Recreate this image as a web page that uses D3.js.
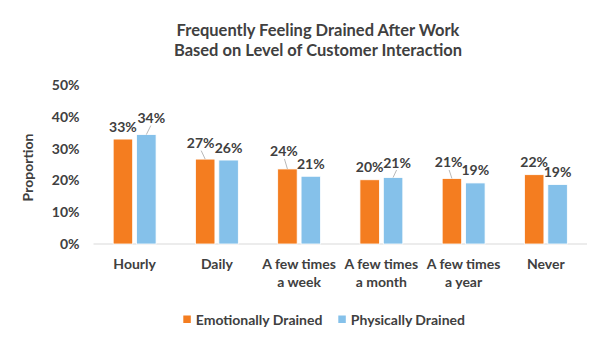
<!DOCTYPE html>
<html>
<head>
<meta charset="utf-8">
<script src="https://cdn.jsdelivr.net/npm/d3@7"></script>
<style>
  body { margin: 0; background: #fff; }
  text { font-family: Lato, "Open Sans", sans-serif; font-weight: bold; fill: #404040; }
</style>
</head>
<body>
<svg id="chart" width="601" height="339"></svg>
<script>
// data
var categories = ['Hourly', 'Daily', 'A few times\na week', 'A few times\na month', 'A few times\na year', 'Never'];
var seriesNames = ['Emotionally Drained', 'Physically Drained'];
var emotional = [0.33, 0.267, 0.236, 0.202, 0.206, 0.218];
var physical = [0.344, 0.264, 0.213, 0.209, 0.192, 0.187];
var yTicks = [0, 0.1, 0.2, 0.3, 0.4, 0.5];
var titleLines = ['Frequently Feeling Drained After Work', 'Based on Level of Customer Interaction'];

// labels that were nudged off their bars (with a leader line)
var nudged = {
  '0-1': [5, -4], '1-0': [-4.5, -3.5], '2-0': [-3.5, -5],
  '3-1': [4, -2.5], '4-0': [-3.3, -3.5]
};

var colors = ['#F47D20', '#85C1EA'];
var svg = d3.select('#chart');
var margin = { left: 93.5, right: 14, top: 85, bottom: 95 };
var width = 601 - margin.left - margin.right;
var height = 339 - margin.top - margin.bottom;

var x0 = d3.scaleBand().domain(d3.range(categories.length)).range([margin.left, margin.left + width]);
var x1 = d3.scalePoint().domain([0, 1]).range([-11.7, 11.7]);
var y = d3.scaleLinear().domain([0, 0.5]).range([margin.top + height, margin.top]);

// title, sized so the first line is ~283px wide like the original
var t0 = svg.append('text').style('font-size', '16px').text(titleLines[0]);
var titleSize = 16 * 283 / t0.node().getComputedTextLength();
t0.remove();
titleLines.forEach(function (line, k) {
  svg.append('text').attr('x', 318).attr('y', 35.5 + k * 20.3).attr('text-anchor', 'middle')
    .style('font-size', titleSize + 'px').text(line);
});

// y axis
var yAxis = d3.axisLeft(y).tickValues(yTicks).tickFormat(d3.format('.0%')).tickSize(0).tickPadding(14);
var ya = svg.append('g').attr('transform', 'translate(' + margin.left + ',0)').call(yAxis);
ya.select('.domain').remove();
ya.selectAll('text').style('font-size', '14px').attr('fill', null);

svg.append('text').attr('transform', 'translate(33,' + (margin.top + height / 2 + 3) + ') rotate(-90)')
  .attr('text-anchor', 'middle').style('font-size', '14px').text('Proportion');

// baseline
svg.append('line').attr('x1', margin.left).attr('x2', margin.left + width)
  .attr('y1', y(0)).attr('y2', y(0)).attr('stroke', '#d9d9d9').attr('stroke-width', 1);

var bw = 19.5;
var series = [emotional, physical];
series.forEach(function (vals, s) {
  var g = svg.append('g');
  g.selectAll('rect').data(vals).enter().append('rect')
    .attr('x', function (d, i) { return x0(i) + x0.bandwidth() / 2 + x1(s) - bw / 2; })
    .attr('y', function (d) { return y(d); })
    .attr('width', bw)
    .attr('height', function (d) { return y(0) - y(d); })
    .attr('fill', colors[s])
    .attr('stroke', '#fff').attr('stroke-width', 0.8);

  vals.forEach(function (d, i) {
    var cx = x0(i) + x0.bandwidth() / 2 + x1(s);
    var off = nudged[i + '-' + s] || [0, 0];
    var lx = cx + off[0], ly = y(d) - 7.5 + off[1];
    if (nudged[i + '-' + s]) {
      svg.append('line')
        .attr('x1', lx + (off[0] > 0 ? -1 : 1) * 0.5).attr('y1', ly + 2.5)
        .attr('x2', cx).attr('y2', y(d))
        .attr('stroke', '#a6a6a6').attr('stroke-width', 0.8);
    }
    svg.append('text').attr('x', lx).attr('y', ly)
      .attr('text-anchor', 'middle').style('font-size', '14px')
      .text(d3.format('.0%')(d));
  });
});

// category labels
categories.forEach(function (c, i) {
  var t = svg.append('text').attr('x', x0(i) + x0.bandwidth() / 2).attr('y', 269)
    .attr('text-anchor', 'middle').style('font-size', '14px');
  c.split('\n').forEach(function (line, k) {
    t.append('tspan').attr('x', x0(i) + x0.bandwidth() / 2).attr('dy', k ? 18.3 : 0).text(line);
  });
});

// legend
var legendX = [183.3, 338.3];
seriesNames.forEach(function (n, s) {
  svg.append('rect').attr('x', legendX[s]).attr('y', 315.5).attr('width', 7.5).attr('height', 7.5)
    .attr('fill', colors[s]);
  svg.append('text').attr('x', legendX[s] + 12.5).attr('y', 324.5)
    .style('font-size', '14px').text(n);
});
</script>
</body>
</html>
